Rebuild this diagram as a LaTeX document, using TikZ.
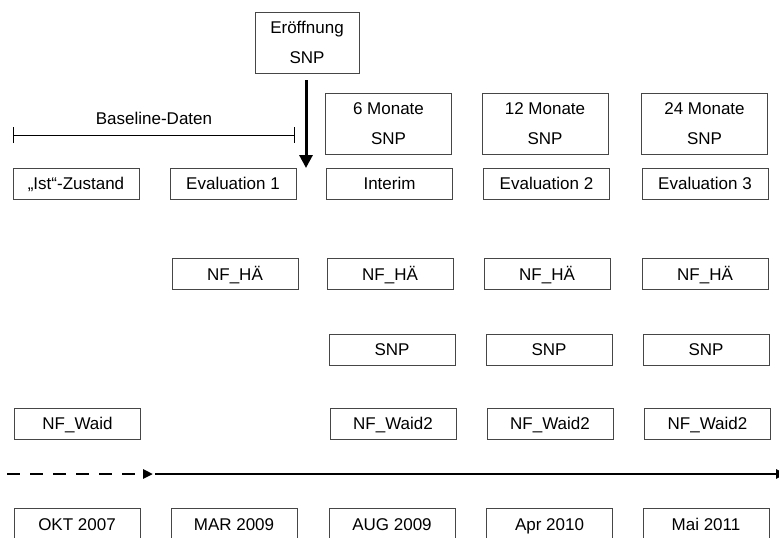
\documentclass[tikz,border=0pt]{standalone}
\usepackage{fontspec}
\setmainfont{Liberation Sans}
\usetikzlibrary{arrows.meta}
\definecolor{rim}{RGB}{70,70,70}

\begin{document}
\begin{tikzpicture}[x=1pt,y=-1pt,
    box/.style={draw=rim,line width=0.8pt,inner sep=0pt,
      minimum width=126pt,minimum height=31pt,
      text height=12pt,text depth=0pt,
      font=\fontsize{17}{30}\selectfont},
    tallbox/.style={draw=rim,line width=0.8pt,inner sep=0pt,
      minimum width=126pt,minimum height=61pt,align=center,
      font=\fontsize{17}{30}\selectfont}]
  \useasboundingbox (0,0) rectangle (779,538);

  % Opening and follow-up SNP dates
  \node[tallbox,minimum width=104pt] (open) at (307,42.5) {Eröffnung\\SNP};
  \node[tallbox] (m6)  at (388.5,123.5) {6 Monate\\SNP};
  \node[tallbox] (m12) at (545,123.5) {12 Monate\\SNP};
  \node[tallbox] (m24) at (704.5,123.5) {24 Monate\\SNP};

  % Baseline span
  \coordinate (bl) at (13,135);
  \coordinate (br) at (295,135);
  \draw[{Bar[width=16pt]}-{Bar[width=16pt]},line width=0.8pt] (bl) -- (br)
    node[midway,above=10pt,inner sep=0pt,text depth=0pt,
      font=\fontsize{17}{20}\selectfont]{Baseline-Daten};

  % Survey row
  \node[box] (ist)     at (76,183.5)    {„Ist“-Zustand};
  \node[box] (evalA)   at (233,183.5)   {Evaluation 1};
  \node[box] (interim) at (389.5,183.5) {Interim};
  \node[box] (evalB)   at (546.5,183.5) {Evaluation 2};
  \node[box] (evalC)   at (705,183.5)   {Evaluation 3};

  % Start arrow
  \coordinate (start) at (306,168);
  \draw[-{Triangle[length=13pt,width=13pt]},line width=3pt]
    ([xshift=-1pt,yshift=-7pt]open.south) -- (start);

  % NF_HÄ row
  \node[box] (haA) at (235,274)   {NF\_HÄ};
  \node[box] (haB) at (390,274)   {NF\_HÄ};
  \node[box] (haC) at (547,274)   {NF\_HÄ};
  \node[box] (haD) at (705,274)   {NF\_HÄ};

  % SNP row
  \node[box] (snpA) at (392,349.5) {SNP};
  \node[box] (snpB) at (549,349.5) {SNP};
  \node[box] (snpC) at (706,349.5) {SNP};

  % NF_Waid row
  \node[box] (waid)  at (77.5,423.5)  {NF\_Waid};
  \node[box] (waidA) at (393,423.5)   {NF\_Waid2};
  \node[box] (waidB) at (550,423.5)   {NF\_Waid2};
  \node[box] (waidC) at (707.5,423.5) {NF\_Waid2};

  % Time axis
  \coordinate (t0) at (7,474);
  \coordinate (t1) at (153,474);
  \coordinate (t2) at (155,474);
  \coordinate (t3) at (786,474);
  \draw[-{Triangle[length=10pt,width=9pt]},line width=2.5pt,
    dash pattern=on 13pt off 10pt] (t0) -- (t1);
  \draw[-{Triangle[length=10pt,width=9pt]},line width=2.5pt] (t2) -- (t3);

  % Dates (cut at the lower edge)
  \node[box,minimum height=32pt] (okt) at (77,524)    {OKT 2007};
  \node[box,minimum height=32pt] (mar) at (234,524)   {MAR 2009};
  \node[box,minimum height=32pt] (aug) at (392,524)   {AUG 2009};
  \node[box,minimum height=32pt] (apr) at (549.5,524) {Apr 2010};
  \node[box,minimum height=32pt] (mai) at (706,524)   {Mai 2011};
\end{tikzpicture}
\end{document}
